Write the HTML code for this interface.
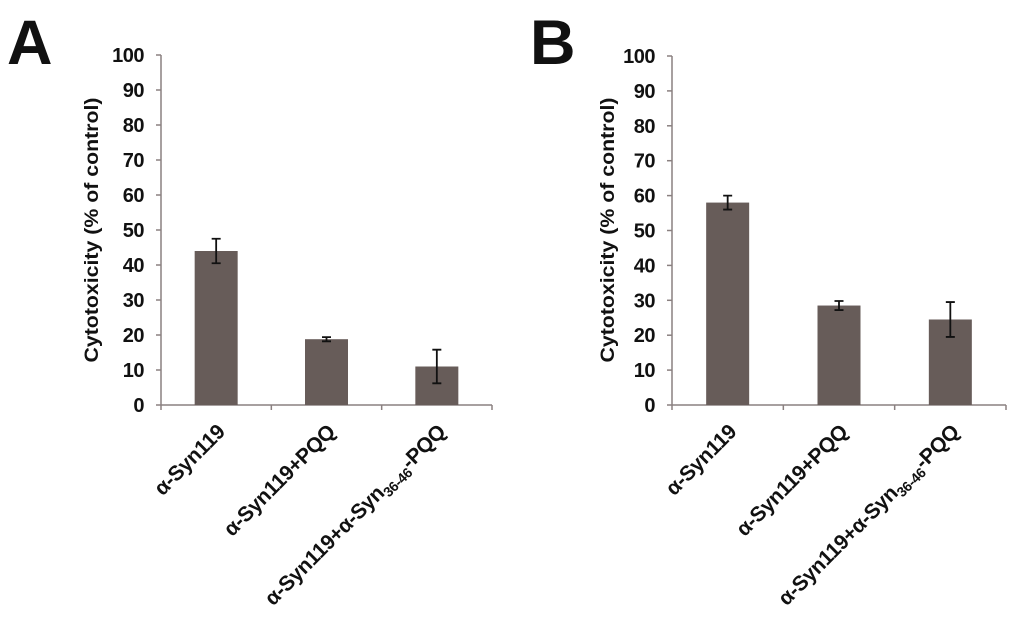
<!DOCTYPE html>
<html><head><meta charset="utf-8"><style>
html,body{margin:0;padding:0;background:#fff;}
svg{display:block;font-family:"Liberation Sans",Arial,sans-serif;font-weight:bold;}
</style></head><body>
<svg id="chart" width="1024" height="638" viewBox="0 0 1024 638" xmlns="http://www.w3.org/2000/svg">
<text x="7" y="64" font-size="63" fill="#111">A</text>
<text x="530" y="64" font-size="63" fill="#111">B</text>
</svg>
<script>
const categories = ["α-Syn119", "α-Syn119+PQQ", "α-Syn119+α-Syn36-46-PQQ"];
const valuesA = [44, 18.8, 11];
const errorsA = [3.5, 0.6, 4.8];
const valuesB = [58, 28.5, 24.5];
const errorsB = [2, 1.3, 5];
const yTicks = [0, 10, 20, 30, 40, 50, 60, 70, 80, 90, 100];
const yTitle = "Cytotoxicity (% of control)";

const NS = "http://www.w3.org/2000/svg";
const svg = document.getElementById("chart");
function mk(tag, attrs, parent) {
  const e = document.createElementNS(NS, tag);
  for (const k in attrs) e.setAttribute(k, attrs[k]);
  (parent || svg).appendChild(e);
  return e;
}
function panel(id, x0, x1, y0, y100, vals, errs, titleX) {
  const g = mk("g", {});
  
  
  const yS = v => y0 - (y0 - y100) * v / 100;
  const bw = (x1 - x0) / categories.length;
  const xC = i => x0 + bw * (i + 0.5);
  const ya = mk("line", {x1: x0, y1: y100, x2: x0, y2: y0, stroke: "#8a8080", "stroke-width": 1.5}, g);
  
  
  yTicks.forEach(t => {
    const tk = mk("line", {x1: x0 - 5, y1: yS(t), x2: x0, y2: yS(t), stroke: "#8a8080", "stroke-width": 1.5}, g);
    
    
    const tl = mk("text", {x: x0 - 17, y: yS(t) + 7, "font-size": 20, "text-anchor": "end", fill: "#111", "letter-spacing": -0.5}, g);
    tl.textContent = t;
    
    
  });
  const yt = mk("text", {transform: `translate(${titleX},230) rotate(-90)`, "font-size": 19, "text-anchor": "middle", fill: "#111", textLength: 265, lengthAdjust: "spacingAndGlyphs"}, g);
  yt.textContent = yTitle;
  
  
  const xa = mk("line", {x1: x0, y1: y0, x2: x1, y2: y0, stroke: "#8a8080", "stroke-width": 1.5}, g);
  
  
  for (let i = 0; i <= categories.length; i++) {
    const xt = mk("line", {x1: x0 + bw * i, y1: y0, x2: x0 + bw * i, y2: y0 + 5, stroke: "#8a8080", "stroke-width": 1.5}, g);
    
    
  }
  vals.forEach((v, i) => {
    const w = 43;
    const b = mk("rect", {x: xC(i) - w / 2, y: yS(v), width: w, height: y0 - yS(v), fill: "#675c59"}, g);
    
    
    const hi = yS(v + errs[i]), lo = yS(v - errs[i]);
    const eg = mk("path", {d: `M${xC(i)} ${hi}V${lo}M${xC(i) - 4.5} ${hi}h9M${xC(i) - 4.5} ${lo}h9`, stroke: "#111", "stroke-width": 1.8, fill: "none"}, g);
    
    
    const lx = xC(i) + 10, ly = 433;
    const lab = mk("text", {transform: `translate(${lx},${ly}) rotate(-45)`, "font-size": 21, "text-anchor": "end", fill: "#111", "letter-spacing": -0.3}, g);
    
    
    const c = categories[i];
    if (c.indexOf("36-46") >= 0) {
      const parts = c.split("36-46");
      const t1 = mk("tspan", {}, lab); t1.textContent = parts[0];
      const t2 = mk("tspan", {"font-size": 14, dy: 5}, lab); t2.textContent = "36-46";
      const t3 = mk("tspan", {dy: -5}, lab); t3.textContent = parts[1];
    } else {
      lab.textContent = c;
    }
  });
}
panel("a", 161, 492, 405, 55, valuesA, errorsA, 98);
panel("b", 672, 1006, 405, 56, valuesB, errorsB, 614);
</script>
</body></html>
